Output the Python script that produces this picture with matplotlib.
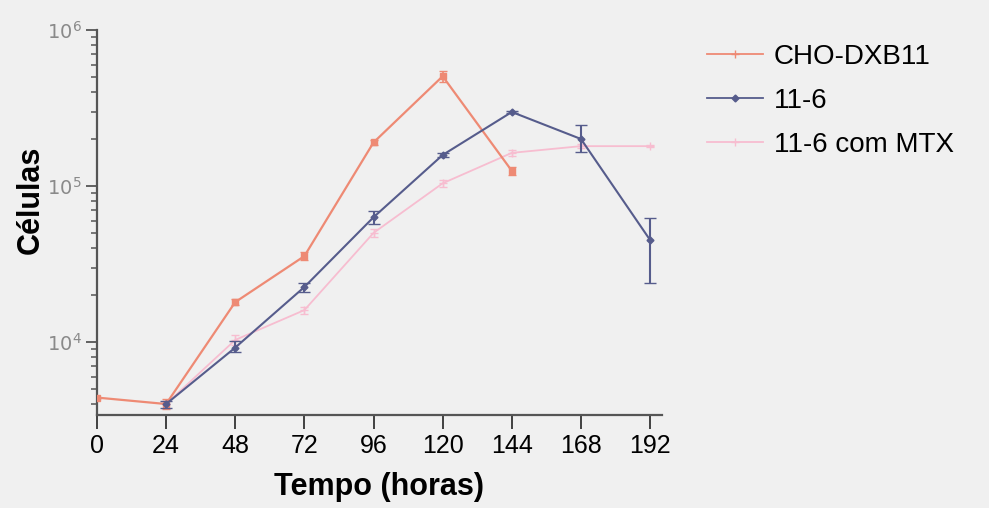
import matplotlib.pyplot as plt
from matplotlib.ticker import LogLocator, NullFormatter
from matplotlib.lines import Line2D
import numpy as np

# dados (células x tempo)
t_cho = [0, 24, 48, 72, 96, 120, 144]
cel_cho = [4400, 4000, 18000, 35500, 190000, 505000, 125000]
err_cho = [0, 300, 800, 2000, 8000, 40000, 8000]

t_116 = [24, 48, 72, 96, 120, 144, 168, 192]
cel_116 = [4000, 9200, 22500, 63000, 158000, 298000, 200000, 45000]
err_116_low = [200, 600, 1500, 6000, 4000, 6000, 35000, 21000]
err_116_high = [200, 900, 1500, 6000, 4000, 6000, 46000, 17500]

t_mtx = [24, 48, 72, 96, 120, 144, 168, 192]
cel_mtx = [4000, 10300, 16000, 50000, 104000, 163000, 180000, 180000]
err_mtx = [200, 700, 800, 3000, 5000, 8000, 6000, 3000]

labels = ['CHO-DXB11', '11-6', '11-6 com MTX']
x_ticks = [0, 24, 48, 72, 96, 120, 144, 168, 192]

bg = '#f0f0f0'
c_cho = '#ee8a74'
c_116 = '#565c8c'
c_mtx = '#f7bdd0'

fig = plt.figure(figsize=(9.89, 5.08), dpi=100, facecolor=bg)
ax = fig.add_axes([0.098, 0.183, 0.571, 0.758], facecolor=bg)

ax.errorbar(t_mtx, cel_mtx, yerr=err_mtx, color=c_mtx, marker='+', ms=6,
            lw=1.3, capsize=3, elinewidth=1, zorder=2)
ax.errorbar(t_cho, cel_cho, yerr=err_cho, color=c_cho, marker='s', ms=4,
            lw=1.6, capsize=3, elinewidth=1.2, zorder=3)
ax.errorbar(t_116, cel_116, yerr=[err_116_low, err_116_high], color=c_116,
            marker='D', ms=3.5, lw=1.5, capsize=4, elinewidth=1.5, zorder=4)

ax.set_yscale('log')
ax.set_ylim(3400, 1e6)
ax.set_xlim(0, 196)
ax.set_xticks(x_ticks)
ax.set_xticklabels([str(v) for v in x_ticks], fontsize=18, family='Liberation Sans')
ax.yaxis.set_major_locator(LogLocator(base=10, numticks=10))
ax.yaxis.set_minor_locator(LogLocator(base=10, subs=np.arange(2, 10), numticks=20))
ax.yaxis.set_minor_formatter(NullFormatter())
ax.tick_params(axis='y', which='major', length=8, width=1.3, labelsize=14,
               labelcolor='#8a8a8a', color='#555555', pad=3)
ax.tick_params(axis='y', which='minor', length=4, width=1.1, color='#555555')
ax.tick_params(axis='x', length=10, width=1.3, color='#333333', pad=4)

for s in ['top', 'right']:
    ax.spines[s].set_visible(False)
ax.spines['left'].set_color('#555555')
ax.spines['left'].set_linewidth(1.6)
ax.spines['bottom'].set_color('#555555')
ax.spines['bottom'].set_linewidth(1.6)

ax.set_xlabel('Tempo (horas)', fontsize=22, fontweight='bold', labelpad=10,
              family='Liberation Sans')
ax.set_ylabel('Células', fontsize=22, fontweight='bold',
              family='Liberation Sans')
ax.yaxis.set_label_coords(-0.09, 0.56)

handles = [
    Line2D([], [], color=c_cho, marker='+', ms=6, lw=1.3),
    Line2D([], [], color=c_116, marker='D', ms=3.5, lw=1.3),
    Line2D([], [], color=c_mtx, marker='+', ms=6, lw=1.3),
]
ax.legend(handles, labels, loc='upper left', bbox_to_anchor=(0.69, 0.963),
          bbox_transform=fig.transFigure, frameon=False,
          prop={'family': 'Liberation Sans', 'size': 20},
          handlelength=2.0, handletextpad=0.4, labelspacing=0.65)

fig.savefig('out.png', dpi=100, facecolor=bg)
